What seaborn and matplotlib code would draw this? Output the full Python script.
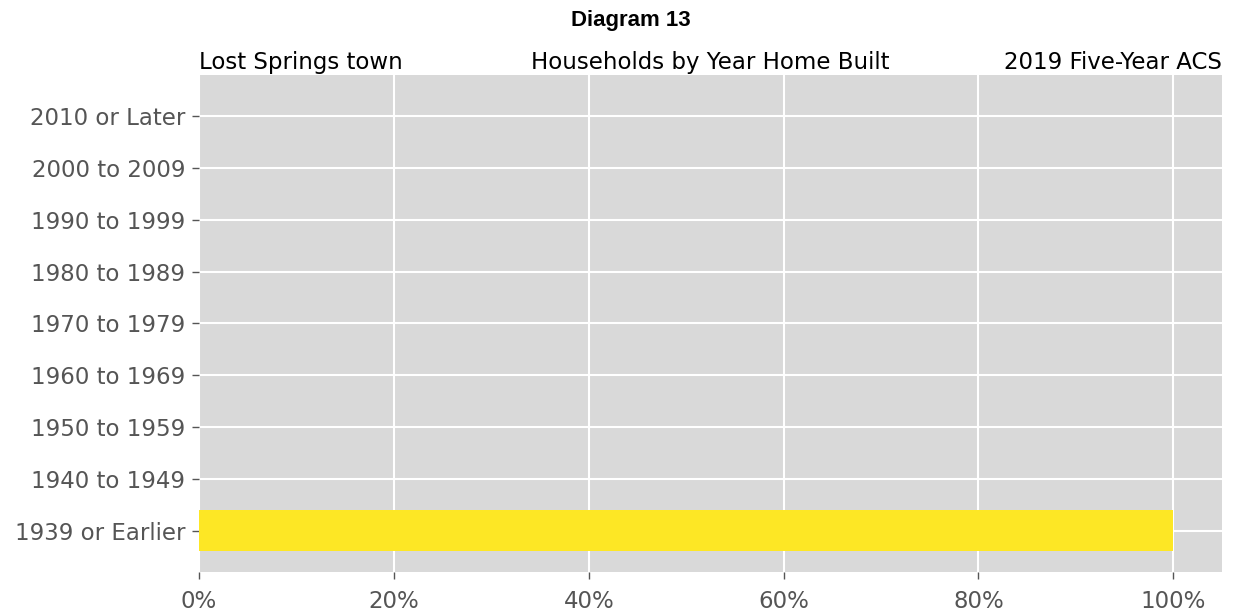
import seaborn as sns, matplotlib.pyplot as plt, numpy as np
import pandas as pd
from matplotlib.ticker import PercentFormatter

years = ["2010 or Later", "2000 to 2009", "1990 to 1999", "1980 to 1989",
         "1970 to 1979", "1960 to 1969", "1950 to 1959", "1940 to 1949",
         "1939 or Earlier"]
shares = [0, 0, 0, 0, 0, 0, 0, 0, 1.0]

df = pd.DataFrame({"year": years, "share": shares})

sns.set_style("darkgrid", {"axes.facecolor": "#d9d9d9", "grid.color": "white"})
fig = plt.figure(figsize=(12.34, 6.14), dpi=100)
ax = fig.add_axes([0.1613, 0.0684, 0.8290, 0.8095])

sns.barplot(data=df, x="share", y="year", order=years, color="#fde725",
            saturation=1, width=0.8, linewidth=0, ax=ax)

ax.set_xlim(0, 1.05)
ax.set_ylim(8.8, -0.8)
ax.xaxis.set_major_formatter(PercentFormatter(1.0, decimals=0))
ax.set_xticks([0, 0.2, 0.4, 0.6, 0.8, 1.0])
ax.grid(True, color="white", linewidth=1.5)
ax.set_axisbelow(True)
for s in ax.spines.values():
    s.set_visible(False)
ax.tick_params(axis="both", colors="#555555", labelsize=16.5, length=5,
               width=1.0, direction="out", left=True, bottom=True)
ax.tick_params(axis="x", pad=8)
ax.tick_params(axis="y", pad=5)
ax.set_xlabel("")
ax.set_ylabel("")

ax.set_title("Lost Springs town", loc="left", fontsize=16.5, color="black", pad=4)
ax.set_title("Households by Year Home Built", loc="center", fontsize=16.5, color="black", pad=4)
ax.set_title("2019 Five-Year ACS", loc="right", fontsize=16.5, color="black", pad=4)
fig.text(0.511, 0.967, "Diagram 13", ha="center", va="center", color="black",
         fontsize=16, fontweight="bold", family=["Liberation Sans", "DejaVu Sans"])

fig.savefig("out.png", dpi=100)
